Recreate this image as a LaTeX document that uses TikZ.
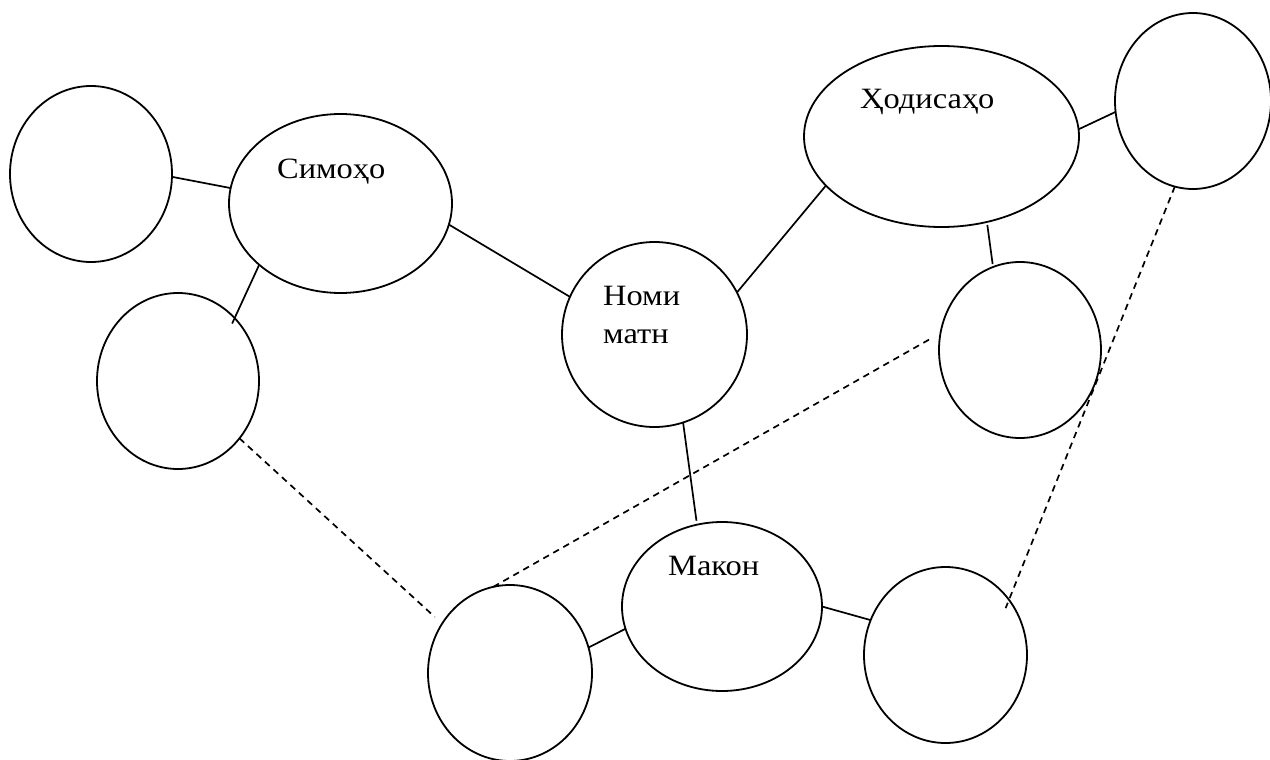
\documentclass[tikz,border=0pt]{standalone}
\usepackage{fontspec}
\usetikzlibrary{shapes.geometric}
\newfontfamily\lblfont[FakeStretch=1.1]{Liberation Serif}
\tikzset{
  ell/.style={ellipse, draw, line width=1.8pt, inner sep=0pt, outer sep=0pt},
  lbl/.style={anchor=base west, inner sep=0pt, font=\lblfont\fontsize{29.5}{35}\selectfont},
  conn/.style={line width=1.7pt},
  dconn/.style={line width=1.7pt, dash pattern=on 6.5pt off 5pt}
}
\begin{document}
\begin{tikzpicture}[x=1pt,y=-1pt]
\useasboundingbox (0,0) rectangle (1270,760);
\node[ell, minimum width=162pt, minimum height=176pt] (A) at (91,174) {};
\node[ell, minimum width=223pt, minimum height=179pt] (S) at (340.5,203.5) {};
\node[ell, minimum width=162pt, minimum height=176pt] (B) at (178,381) {};
\node[ell, minimum width=185pt, minimum height=185pt] (N) at (654.5,334.5) {};
\node[ell, minimum width=275pt, minimum height=181pt] (H) at (941.5,136.5) {};
\node[ell, minimum width=156pt, minimum height=176pt] (T) at (1193,101) {};
\node[ell, minimum width=162pt, minimum height=176pt] (R) at (1020,350) {};
\node[ell, minimum width=200pt, minimum height=169pt] (M) at (722,606.5) {};
\node[ell, minimum width=164pt, minimum height=176pt] (L) at (510,673) {};
\node[ell, minimum width=163pt, minimum height=176pt] (Q) at (945.5,655) {};

\node[lbl] (tS) at (277,178) {Симоҳо};
\node[lbl] (tN1) at (603,305) {Номи};
\node[lbl] (tN2) at (603,343) {матн};
\node[lbl] (tH) at (860,108) {Ҳодисаҳо};
\node[lbl] (tM) at (668,575) {Макон};

\draw[conn] (A.-2.1) -- (S.172.5);
\draw[conn, shorten >=-6pt] (S.-143.4) -- (B.48.6);
\draw[conn] (S.-11.4) -- (N.156.6);
\draw[conn] (N.27.3) -- (H.203.7);
\draw[conn] (H.3.95) -- (T.188.9);
\draw[conn, shorten <=3pt, shorten >=3pt] (H.-62.8) -- (R.108.2);
\draw[conn, shorten >=4pt] (N.-72) -- (M.107.3);
\draw[conn] (L.18.4) -- (M.193.8);
\draw[conn] (M.-0.9) -- (Q.155.9);
\draw[dconn, shorten >=10pt] (B.-43.5) -- (L.144.5);
\draw[dconn, shorten >=9pt] (L.101.6) -- (R.168.6);
\draw[dconn, shorten >=-9pt] (T.-102.9) -- (Q.41.5);
\end{tikzpicture}
\end{document}
